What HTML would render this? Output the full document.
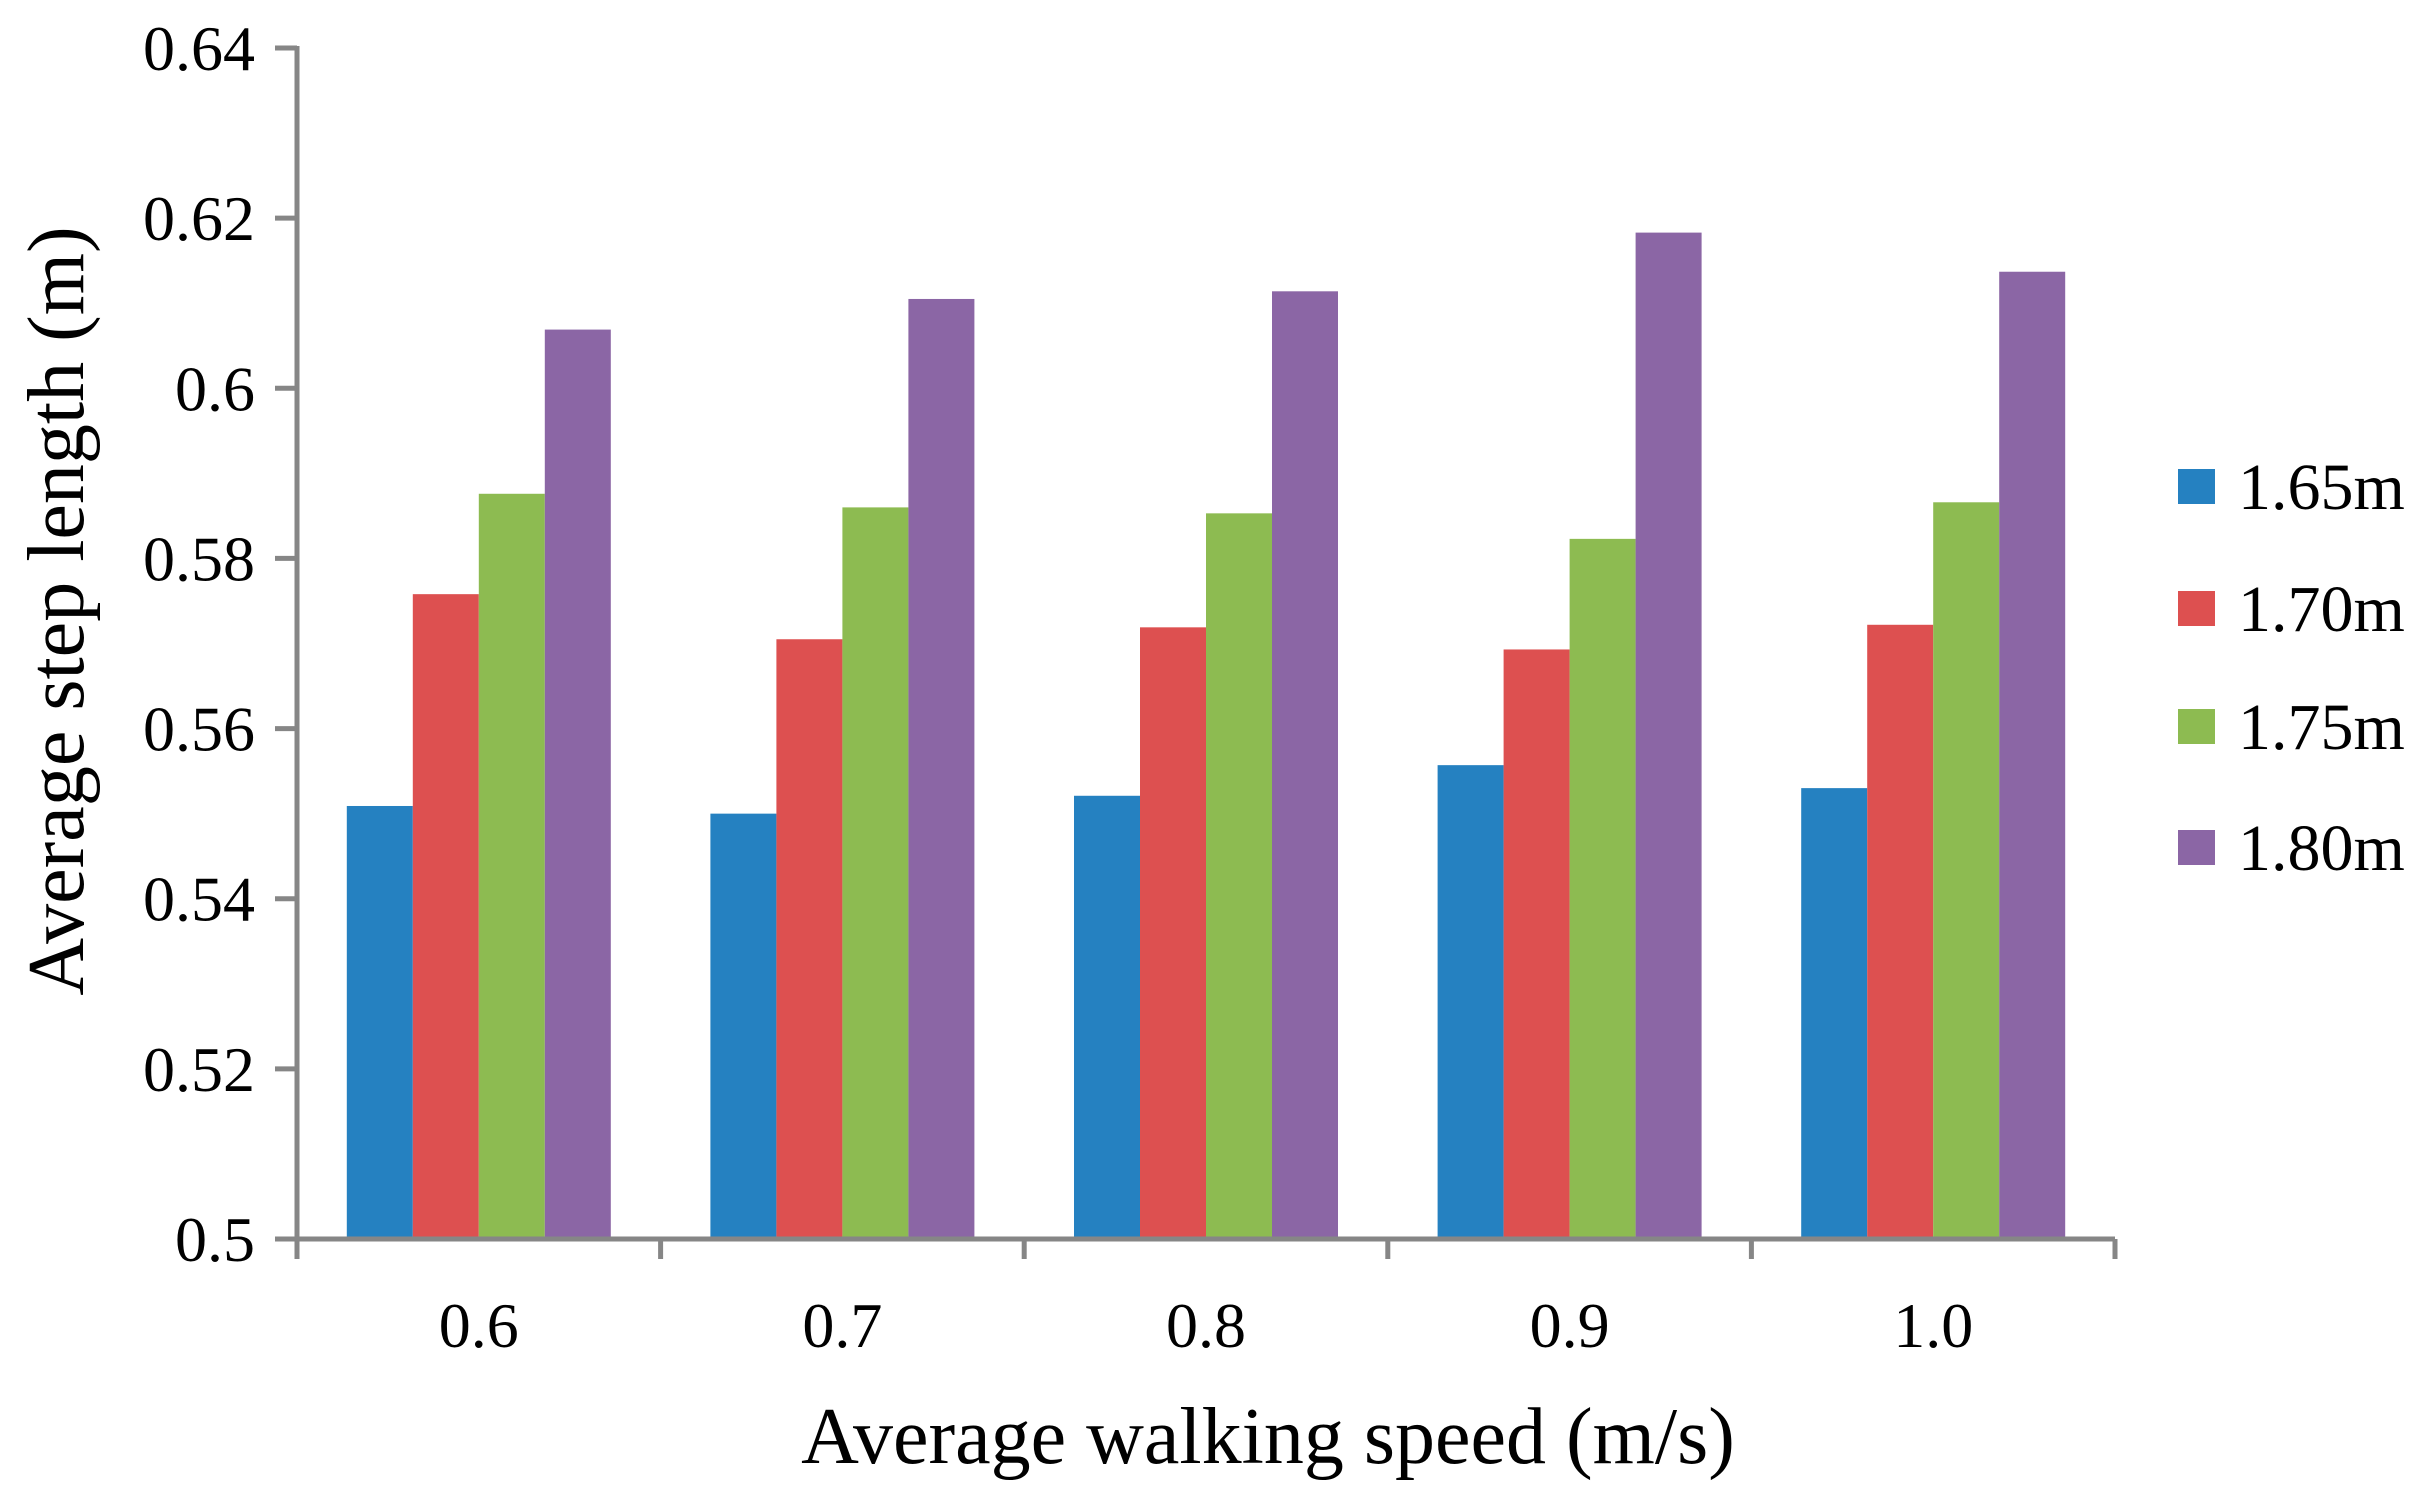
<!DOCTYPE html>
<html><head><meta charset="utf-8"><style>
html,body{margin:0;padding:0;background:#fff;}
svg{display:block;font-family:"Liberation Serif",serif;}
</style></head><body>
<svg id="chart" width="2426" height="1505" viewBox="0 0 2426 1505" xmlns="http://www.w3.org/2000/svg">
<rect width="2426" height="1505" fill="#fff"/>
<g id="bars"></g>
<g id="axes"></g>
<text x="1268" y="1463" font-size="80" text-anchor="middle" fill="#000">Average walking speed (m/s)</text>
<text transform="translate(83,611) rotate(-90)" font-size="80" text-anchor="middle" fill="#000">Average step length (m)</text>
<g id="legend"></g>
</svg>
<script>
const categories = ["0.6","0.7","0.8","0.9","1.0"];
const seriesNames = ["1.65m","1.70m","1.75m","1.80m"];
const s165 = [0.5509,0.5500,0.5521,0.5557,0.5530];
const s170 = [0.5758,0.5705,0.5719,0.5693,0.5722];
const s175 = [0.5876,0.5860,0.5853,0.5823,0.5866];
const s180 = [0.6069,0.6105,0.6114,0.6183,0.6137];
const yTicks = [0.5,0.52,0.54,0.56,0.58,0.6,0.62,0.64];
const yTickLabels = ["0.5","0.52","0.54","0.56","0.58","0.6","0.62","0.64"];

const colors = ["#2581c1","#dd5050","#8dbb51","#8b66a5"];
const series = [s165,s170,s175,s180];
const NS = "http://www.w3.org/2000/svg";
const X0 = 297, X1 = 2115, Y0 = 1239, Y1 = 48, YMIN = 0.5, YMAX = 0.64;
const catW = (X1 - X0) / categories.length;
const barW = 66;
function yScale(v){ return Y0 - (v - YMIN) / (YMAX - YMIN) * (Y0 - Y1); }
function xCat(i){ return X0 + catW * (i + 0.5); }
function mk(tag, attrs, parent){ const e = document.createElementNS(NS, tag); for (const k in attrs) e.setAttribute(k, attrs[k]); parent.appendChild(e); return e; }

const barsG = document.getElementById('bars');
series.forEach((s, si) => {
  s.forEach((v, ci) => {
    const x = xCat(ci) - 2 * barW + si * barW;
    const y = yScale(v);
    const r = mk('rect', {x: x, y: y, width: barW, height: Y0 - y, fill: colors[si]}, barsG);
    
    
  });
});

const axG = document.getElementById('axes');
const ya = mk('line', {x1: X0, y1: Y1 - 2, x2: X0, y2: Y0 + 20, stroke: '#868686', 'stroke-width': 5}, axG);


const xa = mk('line', {x1: X0 - 22, y1: Y0, x2: X1, y2: Y0, stroke: '#868686', 'stroke-width': 5}, axG);


yTicks.forEach((t, i) => {
  const y = yScale(t);
  const tk = mk('line', {x1: X0 - 22, y1: y, x2: X0, y2: y, stroke: '#868686', 'stroke-width': 5}, axG);
  
  
  const tl = mk('text', {x: 255, y: y + 22, 'font-size': 64, 'text-anchor': 'end', fill: '#000'}, axG);
  tl.textContent = yTickLabels[i];
  
  
});
for (let i = 0; i <= categories.length; i++) {
  const x = X0 + catW * i;
  const tk = mk('line', {x1: x, y1: Y0, x2: x, y2: Y0 + 20, stroke: '#868686', 'stroke-width': 5}, axG);
  
  
}
categories.forEach((c, i) => {
  const tl = mk('text', {x: xCat(i), y: 1347, 'font-size': 64, 'text-anchor': 'middle', fill: '#000'}, axG);
  tl.textContent = c;
  
  
});

const lg = document.getElementById('legend');
const rowsY = [487, 609, 727, 848];
seriesNames.forEach((n, i) => {
  const g = mk('g', {}, lg);
  
  
  mk('rect', {x: 2178, y: rowsY[i] - 18, width: 37, height: 35, fill: colors[i]}, g);
  const t = mk('text', {x: 2238, y: rowsY[i] + 22, 'font-size': 66, fill: '#000'}, g);
  t.textContent = n;
});
</script>
</body></html>
